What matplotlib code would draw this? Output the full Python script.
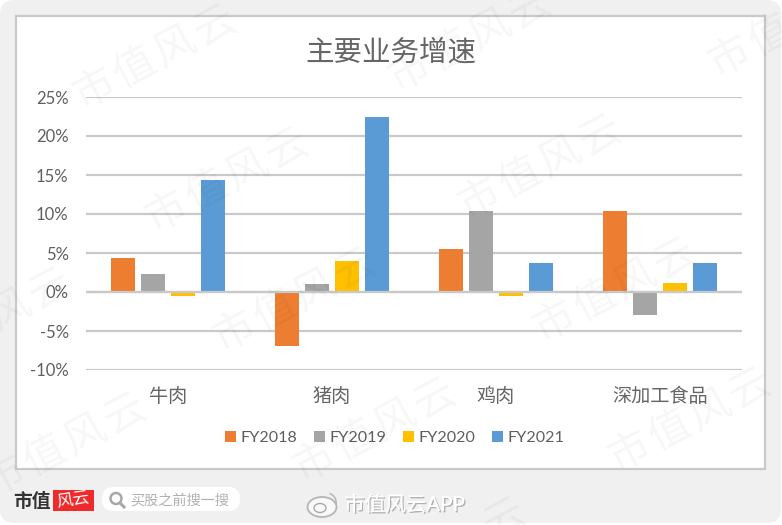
import matplotlib
matplotlib.use("Agg")
import matplotlib.pyplot as plt
import matplotlib.patheffects as pe
from matplotlib.patches import FancyBboxPatch, Rectangle, Circle, Ellipse, Wedge
import numpy as np

plt.rcParams['font.family'] = ['Lato', 'Noto Sans CJK SC', 'DejaVu Sans']

categories = ["牛肉", "猪肉", "鸡肉", "深加工食品"]
fy2018 = [4.4, -6.9, 5.5, 10.4]
fy2019 = [2.3, 1.0, 10.4, -3.0]
fy2020 = [-0.5, 4.0, -0.5, 1.2]
fy2021 = [14.4, 22.4, 3.7, 3.7]
series_names = ["FY2018", "FY2019", "FY2020", "FY2021"]
series_colors = ["#ed7d31", "#a5a5a5", "#ffc000", "#5b9bd5"]
y_ticks = [-10, -5, 0, 5, 10, 15, 20, 25]

# centre of each diagonal watermark, in pixels
wm_x = [155, 227, 470, 540, 790, 295, 65, 375, 615, 690, -10, 445]
wm_y = [57, 180, 40, 167, 25, 300, 445, 430, 290, 420, 320, 550]
wm_chars = "市值风云"

W, H = 782, 525
fig = plt.figure(figsize=(W / 100, H / 100), dpi=100, facecolor="white")

# background card and white panel
bg = fig.add_axes([0, 0, 1, 1], zorder=0)
bg.set_xlim(0, W)
bg.set_ylim(H, 0)
bg.axis("off")
bg.add_patch(FancyBboxPatch((12, 12), W - 25, H - 26, boxstyle="round,pad=12,rounding_size=14",
                            fc="#f0f0f0", ec="none"))
bg.add_patch(Rectangle((16, 16), 749, 453, fc="white", ec="#c9c9c9", lw=1.6))

# chart
ax = fig.add_axes([86 / W, 1 - 370 / H, 656 / W, 273 / H], zorder=1)
ax.patch.set_alpha(0)
x = np.arange(len(categories))
for i, vals in enumerate([fy2018, fy2019, fy2020, fy2021]):
    ax.bar(x + (i - 1.5) * 0.183, vals, 0.143, color=series_colors[i], label=series_names[i], zorder=3)
ax.axhline(0, color="#c9c9c9", lw=1.6, zorder=4)
ax.set_xlim(-0.5, 3.5)
ax.set_ylim(-10, 25)
ax.set_yticks(y_ticks)
ax.set_yticklabels([f"{v}%" for v in y_ticks], fontsize=12, color="#5f5f5f")
ax.set_xticks(x)
ax.set_xticklabels(categories, fontsize=13.8, color="#666666")
ax.tick_params(axis="both", length=0)
ax.tick_params(axis="x", pad=12)
ax.tick_params(axis="y", pad=12.5)
ax.grid(axis="y", color="#c9c9c9", lw=1.6, zorder=1)
ax.set_axisbelow(True)
for s in ax.spines.values():
    s.set_visible(False)

leg = ax.legend(loc="center", bbox_to_anchor=((394.5 - 86) / 656, (370 - 438) / 273), ncol=4, frameon=False,
                fontsize=11.6, handlelength=0.68, handleheight=0.68, handletextpad=0.3, columnspacing=1.02,
                labelcolor="#5f5f5f")

fig.text(391 / W, 1 - 52 / H, "主要业务增速", fontsize=20.5, color="#666666", ha="center", va="center")

# overlay: watermarks and footer
ov = fig.add_axes([0, 0, 1, 1], zorder=2)
ov.set_xlim(0, W)
ov.set_ylim(H, 0)
ov.axis("off")
ang = np.radians(28)
for wx, wy in zip(wm_x, wm_y):
    for k, ch in enumerate(wm_chars):
        step = (k - 1.5) * 45
        cx, cy = wx + step * np.cos(ang), wy - step * np.sin(ang)
        if not (0 <= cx <= W and 0 <= cy <= H):
            continue
        ov.text(cx, cy, ch, fontsize=30, color="#000000", alpha=0.035,
                rotation=28, rotation_mode="anchor", ha="center", va="center", clip_on=True)

ov.text(32, 501, "市值", fontsize=13.5, color="#333333", fontweight="bold", ha="center", va="center")
ov.add_patch(Rectangle((53, 490), 41, 21, fc="#ee2a2a", ec="none"))
ov.text(73, 500, "风云", fontsize=12, color="white", ha="center", va="center", rotation=8)
ov.add_patch(FancyBboxPatch((102, 487), 138, 24, boxstyle="round,pad=0,rounding_size=12", fc="white", ec="none"))
ov.add_patch(Circle((116, 498.5), 5.5, fc="none", ec="#a8a8a8", lw=1.8))
ov.plot([120, 124], [503, 507], color="#a8a8a8", lw=2.2)
ov.text(130, 499.5, "买股之前搜一搜", fontsize=10.2, color="#b0b0b0", ha="left", va="center")

# weibo logo
ov.add_patch(Ellipse((322, 507), 29, 20, fc="#f8f8f8", ec="#b5b5b5", lw=1.3))
ov.add_patch(Ellipse((320, 508), 12, 9, fc="none", ec="#a8a8a8", lw=1))
ov.add_patch(Wedge((326, 503), 11, -70, 10, width=1.5, fc="#b5b5b5", ec="none"))
ov.text(344, 505, "市值风云APP", fontsize=14.8, color="#ffffff", ha="left", va="center",
        path_effects=[pe.withSimplePatchShadow(offset=(1, -1), shadow_rgbFace="#888888", alpha=0.6),
                      pe.Normal()])

fig.savefig("out.png", dpi=100, facecolor=fig.get_facecolor())
